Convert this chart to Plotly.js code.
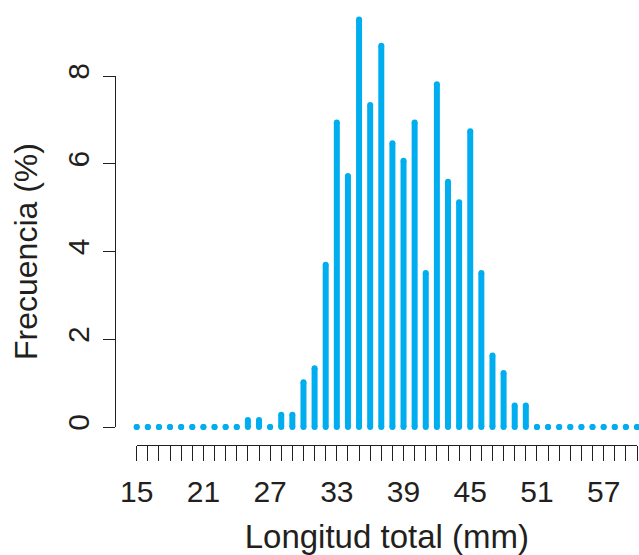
<!DOCTYPE html>
<html>
<head>
<meta charset="utf-8">
<script src="https://cdn.plot.ly/plotly-3.0.1.min.js"></script>
<style>html,body{margin:0;padding:0;background:#fff;}</style>
</head>
<body>
<div id="chart" style="width:639px;height:555px;"></div>
<script>
// Longitud total (mm) classes
const lengths = [15,16,17,18,19,20,21,22,23,24,25,26,27,28,29,30,31,32,33,34,35,36,37,38,39,40,41,42,43,44,45,46,47,48,49,50,51,52,53,54,55,56,57,58,59,60];
// Frecuencia (%)
const freq = [0,0,0,0,0,0,0,0,0,0,
              0.16,0.16,0,0.28,0.28,1.02,1.34,3.70,6.94,5.72,
              9.29,7.34,8.69,6.47,6.07,6.94,3.51,7.81,5.59,5.12,
              6.74,3.51,1.63,1.23,0.49,0.49,
              0,0,0,0,0,0,0,0,0,0];
const yTicks = [0,2,4,6,8];
const xLabels = ['15','21','27','33','39','45','51','57'];

const xs = [], ys = [];
lengths.forEach((L, i) => { xs.push(L, L, null); ys.push(0, freq[i], null); });
const tickText = lengths.map(L => xLabels.includes(String(L)) ? String(L) : '');

const ink = '#231f20';
const blue = '#00aeef';
const fam = '"Liberation Sans", Arial, Helvetica, sans-serif';

// geometry (px) : paper spans y 10..445, x 115..637
const H = 435;
const y0frac = 18 / H;           // y=0 sits 18px above the x axis line
const y8frac = 369 / H;          // y=8 tick
const pxPerUnit = (y8frac - y0frac) * H / 8;
const yTop = (1 - y0frac) * H / pxPerUnit;

const bars = {
  x: xs, y: ys, type: 'scatter', mode: 'lines+markers',
  xaxis: 'x', yaxis: 'y',
  line: {color: blue, width: 6},
  marker: {color: blue, size: 6},
  cliponaxis: false, hoverinfo: 'skip', showlegend: false
};
const axisHolder = {x: [], y: [], type: 'scatter', mode: 'markers', xaxis: 'x', yaxis: 'y2', showlegend: false, hoverinfo: 'skip'};

const layout = {
  width: 639, height: 555,
  margin: {l: 115, r: 2, t: 10, b: 110, pad: 0},
  paper_bgcolor: '#ffffff', plot_bgcolor: 'rgba(0,0,0,0)',
  font: {family: fam, color: ink},
  xaxis: {
    domain: [21.7/522, 1], range: [15, 60], anchor: 'free', position: 0,
    tickmode: 'array', tickvals: lengths, ticktext: tickText,
    ticks: 'outside', ticklen: 15, tickwidth: 1, tickcolor: ink,
    showline: true, linecolor: ink, linewidth: 1,
    showgrid: false, zeroline: false,
    tickfont: {size: 30, color: ink, family: fam},
    ticklabelstandoff: 5,
    title: {text: 'Longitud total (mm)', font: {size: 33, color: ink, family: fam}, standoff: 22}
  },
  yaxis: {
    domain: [y0frac, 1], range: [0, yTop], anchor: 'free', position: 0,
    visible: false, showgrid: false, zeroline: false
  },
  yaxis2: {
    domain: [y0frac, y8frac], range: [0, 8], anchor: 'free', position: 0,
    tickmode: 'array', tickvals: yTicks, ticktext: yTicks.map(String),
    ticks: 'outside', ticklen: 12, tickwidth: 1, tickcolor: ink,
    showline: true, linecolor: ink, linewidth: 1,
    showgrid: false, zeroline: false, tickangle: -90,
    tickfont: {size: 30, color: ink, family: fam},
    ticklabelstandoff: 2,
    title: {text: 'Frecuencia (%)', font: {size: 32, color: ink, family: fam}, standoff: 13}
  }
};

Plotly.newPlot('chart', [bars, axisHolder], layout, {staticPlot: true, displayModeBar: false});
</script>
</body>
</html>
